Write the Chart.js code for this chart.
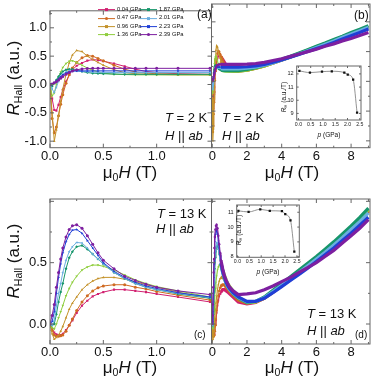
<!DOCTYPE html>
<html>
<head>
<meta charset="utf-8">
<script src="https://cdn.jsdelivr.net/npm/chart.js@4.4.1/dist/chart.umd.min.js"></script>
<style>
body { margin: 0; background: #fff; }
#wrap { position: relative; width: 374px; height: 384px; overflow: hidden; font-family: "Liberation Sans", Arial, sans-serif; color: #111; }
#wrap canvas { position: absolute; left: 0; top: 0; }
.ttl { position: absolute; font-size: 17px; line-height: 1; white-space: nowrap; transform: translate(-50%, -50%); }
.rot { transform: translate(-50%, -50%) rotate(-90deg); }
.ann { position: absolute; font-size: 13px; line-height: 1; white-space: nowrap; transform: translateY(-50%); }
.small { font-size: 6.5px; }
sub { font-size: 0.62em; vertical-align: -0.35em; line-height: 0; }
.leg { position: absolute; font-size: 5.8px; line-height: 1; white-space: nowrap; display: flex; align-items: center; transform: translateY(-50%); }
.leg .ln { position: relative; width: 17px; height: 1px; margin-right: 2px; }
.leg .mk { position: absolute; left: 7px; top: -1px; width: 3px; height: 3px; }
</style>
</head>
<body>
<div id="wrap">
  <canvas id="chartA" width="374" height="384"></canvas>
  <canvas id="chartB" width="374" height="384"></canvas>
  <canvas id="chartC" width="374" height="384"></canvas>
  <canvas id="chartD" width="374" height="384"></canvas>
  <canvas id="insetB" width="374" height="384"></canvas>
  <canvas id="insetD" width="374" height="384"></canvas>

  <div class="ttl rot" style="left:13px;top:78px;"><i>R</i><sub>Hall</sub> (a.u.)</div>
  <div class="ttl rot" style="left:13px;top:261px;"><i>R</i><sub>Hall</sub> (a.u.)</div>
  <div class="ttl" style="left:130px;top:172px;">&mu;<sub>0</sub><i>H</i> (T)</div>
  <div class="ttl" style="left:292px;top:172px;">&mu;<sub>0</sub><i>H</i> (T)</div>
  <div class="ttl" style="left:130px;top:367px;">&mu;<sub>0</sub><i>H</i> (T)</div>
  <div class="ttl" style="left:292px;top:367px;">&mu;<sub>0</sub><i>H</i> (T)</div>

  <div class="ann" style="left:197px;top:14px;font-size:12px;">(a)</div>
  <div class="ann" style="left:354px;top:15px;font-size:12px;">(b)</div>
  <div class="ann" style="left:194px;top:335px;font-size:10px;">(c)</div>
  <div class="ann" style="left:355px;top:335px;font-size:10px;">(d)</div>

  <div class="ann" style="left:165px;top:117px;"><i>T</i> = 2 K</div>
  <div class="ann" style="left:165px;top:135px;"><i>H</i> || <i>ab</i></div>
  <div class="ann" style="left:222px;top:117px;"><i>T</i> = 2 K</div>
  <div class="ann" style="left:222px;top:135px;"><i>H</i> || <i>ab</i></div>
  <div class="ann" style="left:157px;top:213px;"><i>T</i> = 13 K</div>
  <div class="ann" style="left:156px;top:228px;"><i>H</i> || <i>ab</i></div>
  <div class="ann" style="left:307px;top:313px;"><i>T</i> = 13 K</div>
  <div class="ann" style="left:307px;top:330px;"><i>H</i> || <i>ab</i></div>

  <div class="ttl rot small" style="left:284px;top:97px;"><i>R</i><sub>H</sub> (a.u./T)</div>
  <div class="ttl small" style="left:329px;top:135px;"><i>p</i> (GPa)</div>
  <div class="ttl rot small" style="left:239px;top:230px;"><i>R</i><sub>H</sub> (a.u./T)</div>
  <div class="ttl small" style="left:268px;top:272px;"><i>p</i> (GPa)</div>
</div>

<script>
// pressures and styles
const pressures = ['0.04 GPa', '0.47 GPa', '0.96 GPa', '1.36 GPa', '1.87 GPa', '2.01 GPa', '2.23 GPa', '2.39 GPa'];
const colors = ['#d11f6f', '#cf6a22', '#c4922a', '#8fce3e', '#17966b', '#6aaee0', '#1f3fd6', '#7d1fa0'];
const markers = ['rect', 'circle', 'triangle', 'triangle', 'rectRot', 'triangle', 'triangle', 'circle'];
const markerRot = [0, 0, 0, 180, 0, 270, 90, 0];

// magnetic field (T)
const field = [0, 0.02, 0.04, 0.06, 0.08, 0.1, 0.12, 0.15, 0.18, 0.21, 0.25, 0.3, 0.35, 0.4, 0.45, 0.5, 0.6, 0.7, 0.8, 0.9, 1.0, 1.2, 1.5,
               2, 2.5, 3, 3.5, 4, 4.5, 5, 5.5, 6, 6.5, 7, 7.5, 8, 8.5, 9];

// R_Hall at T = 2 K
const r2K_004 = [0, -0.25, -0.45, -0.46, -0.36, -0.22, -0.1, 0.05, 0.17, 0.26, 0.33, 0.38, 0.42, 0.44, 0.43, 0.41, 0.37, 0.32, 0.27, 0.23, 0.21, 0.19, 0.18, 0.195, 0.225, 0.265, 0.31, 0.36, 0.41, 0.46, 0.515, 0.57, 0.62, 0.675, 0.73, 0.785, 0.84, 0.9];
const r2K_047 = [0, -0.6, -0.85, -0.75, -0.55, -0.35, -0.18, 0.02, 0.17, 0.29, 0.39, 0.47, 0.51, 0.5, 0.46, 0.42, 0.34, 0.27, 0.22, 0.2, 0.19, 0.18, 0.175, 0.19, 0.22, 0.26, 0.31, 0.36, 0.41, 0.465, 0.52, 0.575, 0.63, 0.685, 0.74, 0.795, 0.85, 0.91];
const r2K_096 = [0, -0.5, -1.0, -0.8, -0.55, -0.3, -0.08, 0.18, 0.38, 0.52, 0.6, 0.58, 0.5, 0.44, 0.39, 0.34, 0.26, 0.21, 0.19, 0.18, 0.175, 0.17, 0.17, 0.19, 0.22, 0.26, 0.31, 0.36, 0.41, 0.465, 0.52, 0.575, 0.63, 0.69, 0.745, 0.8, 0.855, 0.91];
const r2K_136 = [0, -0.2, -0.15, 0.0, 0.12, 0.22, 0.3, 0.37, 0.41, 0.42, 0.39, 0.34, 0.29, 0.25, 0.22, 0.2, 0.18, 0.175, 0.17, 0.17, 0.17, 0.17, 0.17, 0.19, 0.22, 0.26, 0.31, 0.36, 0.415, 0.47, 0.525, 0.58, 0.635, 0.69, 0.75, 0.805, 0.86, 0.92];
const r2K_187 = [0, -0.03, 0.02, 0.08, 0.14, 0.19, 0.23, 0.26, 0.27, 0.27, 0.25, 0.23, 0.21, 0.2, 0.195, 0.19, 0.185, 0.18, 0.18, 0.18, 0.18, 0.18, 0.18, 0.2, 0.23, 0.27, 0.32, 0.37, 0.42, 0.475, 0.53, 0.59, 0.645, 0.705, 0.76, 0.82, 0.875, 0.935];
const r2K_201 = [0, -0.08, -0.14, -0.05, 0.06, 0.13, 0.18, 0.22, 0.24, 0.245, 0.24, 0.23, 0.225, 0.22, 0.215, 0.215, 0.21, 0.21, 0.21, 0.21, 0.21, 0.21, 0.21, 0.22, 0.24, 0.27, 0.31, 0.36, 0.41, 0.46, 0.515, 0.57, 0.625, 0.68, 0.74, 0.795, 0.85, 0.91];
const r2K_223 = [0, 0.01, 0.03, 0.06, 0.1, 0.14, 0.17, 0.2, 0.22, 0.235, 0.24, 0.24, 0.24, 0.24, 0.24, 0.24, 0.24, 0.24, 0.24, 0.24, 0.24, 0.24, 0.24, 0.245, 0.26, 0.285, 0.32, 0.36, 0.405, 0.45, 0.5, 0.55, 0.6, 0.655, 0.71, 0.765, 0.82, 0.88];
const r2K_239 = [0, 0.01, 0.03, 0.05, 0.08, 0.11, 0.14, 0.18, 0.21, 0.24, 0.26, 0.275, 0.28, 0.285, 0.285, 0.285, 0.285, 0.285, 0.285, 0.285, 0.285, 0.285, 0.285, 0.29, 0.3, 0.32, 0.35, 0.38, 0.42, 0.46, 0.5, 0.54, 0.59, 0.63, 0.68, 0.72, 0.77, 0.82];

// R_Hall at T = 13 K
const r13K_004 = [0, -0.04, -0.07, -0.085, -0.09, -0.09, -0.08, -0.05, -0.01, 0.03, 0.09, 0.15, 0.19, 0.225, 0.245, 0.26, 0.28, 0.28, 0.27, 0.26, 0.245, 0.22, 0.18, 0.165, 0.175, 0.21, 0.26, 0.31, 0.36, 0.415, 0.47, 0.525, 0.585, 0.645, 0.71, 0.775, 0.845, 0.92];
const r13K_047 = [0, -0.05, -0.09, -0.1, -0.1, -0.095, -0.09, -0.06, -0.01, 0.04, 0.11, 0.18, 0.23, 0.27, 0.295, 0.31, 0.32, 0.32, 0.3, 0.285, 0.265, 0.235, 0.195, 0.17, 0.18, 0.21, 0.26, 0.31, 0.365, 0.42, 0.475, 0.53, 0.59, 0.65, 0.715, 0.78, 0.85, 0.925];
const r13K_096 = [0, -0.08, -0.125, -0.11, -0.09, -0.06, -0.02, 0.05, 0.12, 0.17, 0.22, 0.28, 0.32, 0.35, 0.37, 0.38, 0.38, 0.365, 0.345, 0.32, 0.3, 0.26, 0.21, 0.175, 0.18, 0.215, 0.265, 0.315, 0.37, 0.425, 0.48, 0.535, 0.595, 0.655, 0.72, 0.785, 0.855, 0.93];
const r13K_136 = [0, -0.03, -0.04, 0.0, 0.05, 0.1, 0.15, 0.23, 0.29, 0.34, 0.39, 0.44, 0.465, 0.48, 0.48, 0.47, 0.44, 0.4, 0.36, 0.33, 0.305, 0.27, 0.22, 0.175, 0.18, 0.215, 0.27, 0.32, 0.375, 0.43, 0.485, 0.54, 0.6, 0.66, 0.725, 0.79, 0.86, 0.935];
const r13K_187 = [0, -0.01, 0.0, 0.08, 0.18, 0.26, 0.33, 0.45, 0.54, 0.59, 0.63, 0.64, 0.61, 0.57, 0.53, 0.49, 0.42, 0.37, 0.33, 0.3, 0.28, 0.245, 0.21, 0.175, 0.185, 0.22, 0.275, 0.33, 0.385, 0.44, 0.495, 0.55, 0.61, 0.67, 0.735, 0.8, 0.87, 0.945];
const r13K_201 = [0, -0.01, 0.03, 0.15, 0.25, 0.33, 0.42, 0.52, 0.59, 0.63, 0.665, 0.66, 0.62, 0.57, 0.53, 0.49, 0.42, 0.37, 0.33, 0.3, 0.28, 0.25, 0.215, 0.18, 0.185, 0.215, 0.265, 0.315, 0.37, 0.42, 0.475, 0.53, 0.585, 0.645, 0.705, 0.77, 0.835, 0.905];
const r13K_223 = [0, 0.02, 0.1, 0.25, 0.38, 0.49, 0.58, 0.67, 0.73, 0.765, 0.77, 0.74, 0.68, 0.62, 0.56, 0.5, 0.43, 0.38, 0.34, 0.31, 0.29, 0.255, 0.22, 0.185, 0.185, 0.21, 0.255, 0.305, 0.355, 0.405, 0.455, 0.51, 0.565, 0.62, 0.68, 0.74, 0.805, 0.87];
const r13K_239 = [0, 0.07, 0.16, 0.3, 0.42, 0.53, 0.62, 0.71, 0.77, 0.8, 0.81, 0.78, 0.72, 0.65, 0.58, 0.52, 0.45, 0.39, 0.355, 0.325, 0.3, 0.27, 0.24, 0.245, 0.255, 0.28, 0.31, 0.345, 0.38, 0.42, 0.46, 0.5, 0.55, 0.6, 0.66, 0.72, 0.78, 0.85];

const r2K = [r2K_004, r2K_047, r2K_096, r2K_136, r2K_187, r2K_201, r2K_223, r2K_239];
const r13K = [r13K_004, r13K_047, r13K_096, r13K_136, r13K_187, r13K_201, r13K_223, r13K_239];

// insets: Hall coefficient vs pressure
const insetP = [0.04, 0.47, 0.96, 1.36, 1.87, 2.01, 2.23, 2.39];
const rh2K = [12.23, 12.1, 12.17, 12.2, 12.1, 11.95, 11.57, 9.06];
const rh13K = [11.1, 11.02, 11.2, 11.1, 11.08, 10.87, 10.45, 8.35];

// tick values
const xLabLow = [0, 0.5, 1.0];
const xMinorLow = [0.25, 0.75, 1.25];
const xLabHigh = [0, 2, 4, 6, 8];
const xMinorHigh = [1, 3, 5, 7, 9];
const yLab2K = [-1, -0.5, 0, 0.5, 1];
const yMinor2K = [-0.75, -0.25, 0.25, 0.75, 1.25];
const yLab13K = [0, 0.5];
const yMajor13K = [0, 0.5, 1.0];
const yMinor13K = [0.25, 0.75];
const xLabInset = [0, 0.5, 1.0, 1.5, 2.0, 2.5];
const yLabInsetB = [9, 10, 11, 12];
const yLabInsetD = [8, 9, 10, 11];

const W = 374, H = 384;
const FONT = "'Liberation Sans', Arial, sans-serif";

// box + inward ticks
const frame = {
    id: 'frame',
    beforeDatasetsDraw(chart, args, o) {
        if (!o.fill) return;
        const a = chart.chartArea;
        chart.ctx.save();
        chart.ctx.fillStyle = '#fff';
        chart.ctx.fillRect(a.left, a.top, a.width, a.height);
        chart.ctx.restore();
    },
    afterDatasetsDraw(chart, args, o) {
        const { ctx, chartArea: a, scales: { x, y } } = chart;
        ctx.save();
        ctx.strokeStyle = o.color;
        ctx.lineWidth = 1;
        ctx.beginPath();
        const xt = (vals, len) => vals.forEach(v => {
            const p = x.getPixelForValue(v);
            ctx.moveTo(p, a.bottom); ctx.lineTo(p, a.bottom - len);
            ctx.moveTo(p, a.top); ctx.lineTo(p, a.top + len);
        });
        const yt = (vals, len) => vals.forEach(v => {
            const p = y.getPixelForValue(v);
            ctx.moveTo(a.left, p); ctx.lineTo(a.left + len, p);
            ctx.moveTo(a.right, p); ctx.lineTo(a.right - len, p);
        });
        xt(o.xMajor, o.major); xt(o.xMinor, o.minor);
        yt(o.yMajor, o.major); yt(o.yMinor, o.minor);
        ctx.stroke();
        ctx.strokeRect(a.left, a.top, a.width, a.height);
        ctx.restore();
    }
};

function mainChart(id, series, area, xr, yr, xLab, xFmt, yLab, marks, wide) {
    const yw = yLab ? 30 : 0;
    new Chart(document.getElementById(id), {
        type: 'line',
        data: {
            datasets: series.map((vals, i) => ({
                label: pressures[i],
                data: field.map((f, k) => ({ x: f, y: vals[k] })),
                borderColor: colors[i],
                backgroundColor: colors[i],
                borderWidth: 1,
                segment: wide ? { borderWidth: c => c.p1.parsed.x <= 0.5 ? 1.2 : 3.2 } : undefined,
                pointRadius: wide ? (c => c.raw && c.raw.x <= 0.5 ? 1.2 : 0) : 1.5,
                pointStyle: markers[i],
                rotation: markerRot[i],
                pointBorderWidth: 0,
                clip: 0,
                order: series.length - i
            }))
        },
        options: {
            responsive: false,
            animation: false,
            layout: { padding: { left: area.l - yw, top: area.t, right: W - area.r, bottom: H - area.b - 20 } },
            scales: {
                x: {
                    type: 'linear', min: xr[0], max: xr[1],
                    grid: { display: false, drawTicks: false }, border: { display: false },
                    afterBuildTicks: s => { s.ticks = xLab.map(v => ({ value: v })); },
                    afterFit: s => { s.height = 20; },
                    ticks: { autoSkip: false, maxRotation: 0, padding: 1, color: '#111', font: { size: 13, family: FONT }, callback: xFmt }
                },
                y: {
                    type: 'linear', min: yr[0], max: yr[1],
                    grid: { display: false, drawTicks: false }, border: { display: false },
                    afterBuildTicks: s => { s.ticks = (yLab || []).map(v => ({ value: v })); },
                    afterFit: s => { s.width = yw; },
                    ticks: { display: !!yLab, autoSkip: false, padding: 3, color: '#111', font: { size: 13, family: FONT }, callback: v => v.toFixed(1) }
                }
            },
            plugins: { legend: { display: false }, tooltip: { enabled: false }, frame: marks }
        },
        plugins: [frame]
    });
}

function insetChart(id, vals, area, xr, yr, yLab) {
    new Chart(document.getElementById(id), {
        type: 'line',
        data: {
            datasets: [{
                data: insetP.map((p, k) => ({ x: p, y: vals[k] })),
                borderColor: '#777', borderWidth: 0.8,
                backgroundColor: '#111', pointStyle: 'rect', pointRadius: 1.6, pointBorderWidth: 0,
                cubicInterpolationMode: 'monotone'
            }]
        },
        options: {
            responsive: false,
            animation: false,
            layout: { padding: { left: area.l - 14, top: area.t, right: W - area.r, bottom: H - area.b - 10 } },
            scales: {
                x: {
                    type: 'linear', min: xr[0], max: xr[1],
                    grid: { display: false, drawTicks: false }, border: { display: false },
                    afterBuildTicks: s => { s.ticks = xLabInset.map(v => ({ value: v })); },
                    afterFit: s => { s.height = 10; },
                    ticks: { autoSkip: false, maxRotation: 0, padding: 1.5, color: '#222', font: { size: 5.2, family: FONT }, callback: v => v.toFixed(1) }
                },
                y: {
                    type: 'linear', min: yr[0], max: yr[1],
                    grid: { display: false, drawTicks: false }, border: { display: false },
                    afterBuildTicks: s => { s.ticks = yLab.map(v => ({ value: v })); },
                    afterFit: s => { s.width = 14; },
                    ticks: { autoSkip: false, padding: 3, color: '#222', font: { size: 5.6, family: FONT } }
                }
            },
            plugins: {
                legend: { display: false }, tooltip: { enabled: false },
                frame: { fill: true, color: '#666', major: 2, minor: 1, xMajor: xLabInset, xMinor: [], yMajor: yLab, yMinor: [] }
            }
        },
        plugins: [frame]
    });
}

const A = { l: 50, t: 1, r: 211.5, b: 147.7 };
const B = { l: 211.5, t: 1, r: 373, b: 147.7 };
const C = { l: 50, t: 199, r: 211.5, b: 344 };
const D = { l: 211.5, t: 199, r: 373, b: 344 };

const xLowRange = [0, 1.514];
const xHighRange = [-0.045, 9.09];
const y2KRange = [-1.115, 1.30];
const y13KRange = [-0.163, 1.019];

const fmtLow = v => v.toFixed(1);
const fmtHigh = v => String(v);

const marks2KLow = { color: '#666', major: 4, minor: 2, xMajor: xLabLow, xMinor: xMinorLow, yMajor: yLab2K, yMinor: yMinor2K };
const marks2KHigh = { color: '#666', major: 4, minor: 2, xMajor: xLabHigh, xMinor: xMinorHigh, yMajor: yLab2K, yMinor: yMinor2K };
const marks13KLow = { color: '#666', major: 4, minor: 2, xMajor: xLabLow, xMinor: xMinorLow, yMajor: yMajor13K, yMinor: yMinor13K };
const marks13KHigh = { color: '#666', major: 4, minor: 2, xMajor: xLabHigh, xMinor: xMinorHigh, yMajor: yMajor13K, yMinor: yMinor13K };

mainChart('chartA', r2K, A, xLowRange, y2KRange, xLabLow, fmtLow, yLab2K, marks2KLow, false);
mainChart('chartB', r2K, B, xHighRange, y2KRange, xLabHigh, fmtHigh, null, marks2KHigh, true);
mainChart('chartC', r13K, C, xLowRange, y13KRange, xLabLow, fmtLow, yLab13K, marks13KLow, false);
mainChart('chartD', r13K, D, xHighRange, y13KRange, xLabHigh, fmtHigh, null, marks13KHigh, true);

insetChart('insetB', rh2K, { l: 296.7, t: 66, r: 361, b: 120 }, [-0.07, 2.55], [8.5, 12.6], yLabInsetB);
insetChart('insetD', rh13K, { l: 236.7, t: 205, r: 299.3, b: 257.3 }, [-0.03, 2.6], [7.96, 11.49], yLabInsetD);

// legend in panel (a), two columns
const wrap = document.getElementById('wrap');
const legX = [98, 140];
const legY = [10, 18.3, 26.7, 35];
pressures.forEach((p, i) => {
    const d = document.createElement('div');
    d.className = 'leg';
    d.style.left = legX[Math.floor(i / 4)] + 'px';
    d.style.top = legY[i % 4] + 'px';
    const round = markers[i] === 'circle' ? 'border-radius:50%;' : '';
    d.innerHTML = '<span class="ln" style="background:' + colors[i] + '"><span class="mk" style="background:' + colors[i] + ';' + round + '"></span></span>' + p;
    wrap.appendChild(d);
});
</script>
</body>
</html>
